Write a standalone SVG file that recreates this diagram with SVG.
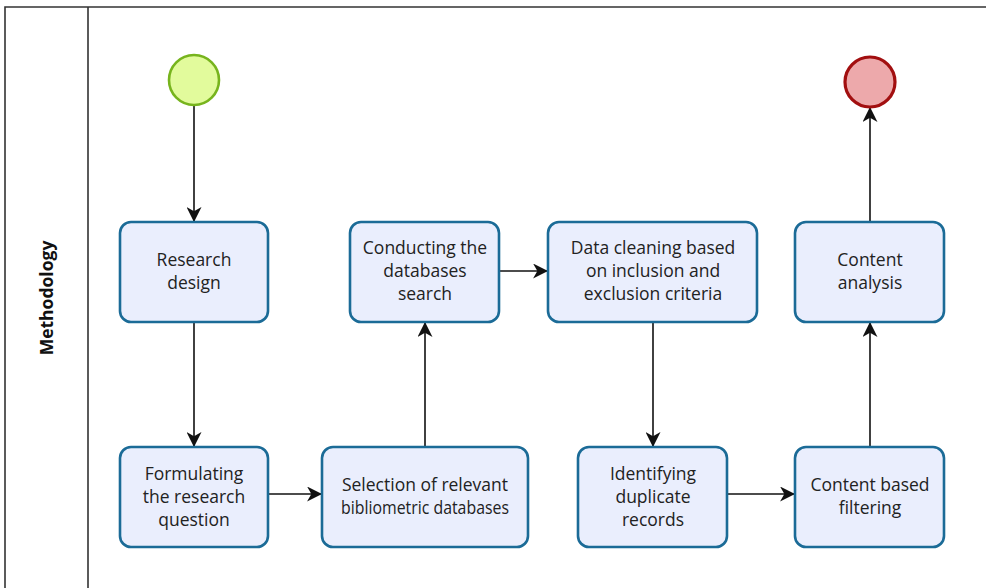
<svg xmlns="http://www.w3.org/2000/svg" width="986" height="588" viewBox="0 0 986 588">
<style>
.box{fill:#eaeefd;stroke:#1b6b97;stroke-width:2.6}
.lbl{font-family:"Open Sans","Noto Sans",sans-serif;font-size:17.5px;fill:#222;text-anchor:middle}
.edge{stroke:#111;stroke-width:1.6;fill:none;marker-end:url(#arr)}
.frame{stroke:#333;stroke-width:1.6;fill:none}
</style>
<defs>
<marker id="arr" viewBox="0 0 14 14" refX="13" refY="7" markerWidth="15" markerHeight="15" markerUnits="userSpaceOnUse" orient="auto">
<path d="M0,0 L14,7 L0,14 L4,7 Z" fill="#111"/>
</marker>
</defs>
<rect width="986" height="588" fill="#fff"/>
<g id="lane">
<path class="frame" d="M5,588 V7 H986 M88,7 V588"/>
<text transform="translate(53,298) rotate(-90)" font-family="'Open Sans','Noto Sans',sans-serif" font-size="17.5px" font-weight="bold" fill="#111" text-anchor="middle">Methodology</text>
</g>
<g id="connectors">
<line class="edge" x1="194" y1="105" x2="194" y2="221"/>
<line class="edge" x1="194" y1="322" x2="194" y2="446"/>
<line class="edge" x1="268" y1="494" x2="321" y2="494"/>
<line class="edge" x1="425" y1="447" x2="425" y2="323"/>
<line class="edge" x1="499" y1="271" x2="547" y2="271"/>
<line class="edge" x1="653" y1="322" x2="653" y2="446"/>
<line class="edge" x1="727" y1="494" x2="794" y2="494"/>
<line class="edge" x1="870" y1="447" x2="870" y2="323"/>
<line class="edge" x1="870" y1="222" x2="870" y2="108"/>
</g>
<g id="start"><circle cx="194" cy="80" r="25" fill="#e2fb9c" stroke="#77b41d" stroke-width="2.6"/></g>
<g id="end"><circle cx="870" cy="82" r="25" fill="#eda9ab" stroke="#a20f10" stroke-width="3.2"/></g>
<g id="research-design">
<rect class="box" x="120" y="222" width="148" height="100" rx="11"/>
<text class="lbl" x="194" y="266">Research</text>
<text class="lbl" x="194" y="289">design</text>
</g>
<g id="formulating">
<rect class="box" x="120" y="447" width="148" height="100" rx="11"/>
<text class="lbl" x="194" y="480">Formulating</text>
<text class="lbl" x="194" y="503">the research</text>
<text class="lbl" x="194" y="526">question</text>
</g>
<g id="selection">
<rect class="box" x="322" y="447" width="206" height="100" rx="11"/>
<text class="lbl" x="425" y="491">Selection of relevant</text>
<text class="lbl" x="425" y="514" textLength="168" lengthAdjust="spacingAndGlyphs">bibliometric databases</text>
</g>
<g id="conducting">
<rect class="box" x="350" y="222" width="149" height="100" rx="11"/>
<text class="lbl" x="425" y="254">Conducting the</text>
<text class="lbl" x="425" y="277">databases</text>
<text class="lbl" x="425" y="300">search</text>
</g>
<g id="data-cleaning">
<rect class="box" x="548" y="222" width="209" height="100" rx="11"/>
<text class="lbl" x="653" y="254">Data cleaning based</text>
<text class="lbl" x="653" y="277">on inclusion and</text>
<text class="lbl" x="653" y="300">exclusion criteria</text>
</g>
<g id="identifying">
<rect class="box" x="578" y="447" width="149" height="100" rx="11"/>
<text class="lbl" x="653" y="480">Identifying</text>
<text class="lbl" x="653" y="503">duplicate</text>
<text class="lbl" x="653" y="526">records</text>
</g>
<g id="content-filtering">
<rect class="box" x="795" y="447" width="149" height="100" rx="11"/>
<text class="lbl" x="870" y="491">Content based</text>
<text class="lbl" x="870" y="514">filtering</text>
</g>
<g id="content-analysis">
<rect class="box" x="795" y="222" width="149" height="100" rx="11"/>
<text class="lbl" x="870" y="266">Content</text>
<text class="lbl" x="870" y="289">analysis</text>
</g>
</svg>
